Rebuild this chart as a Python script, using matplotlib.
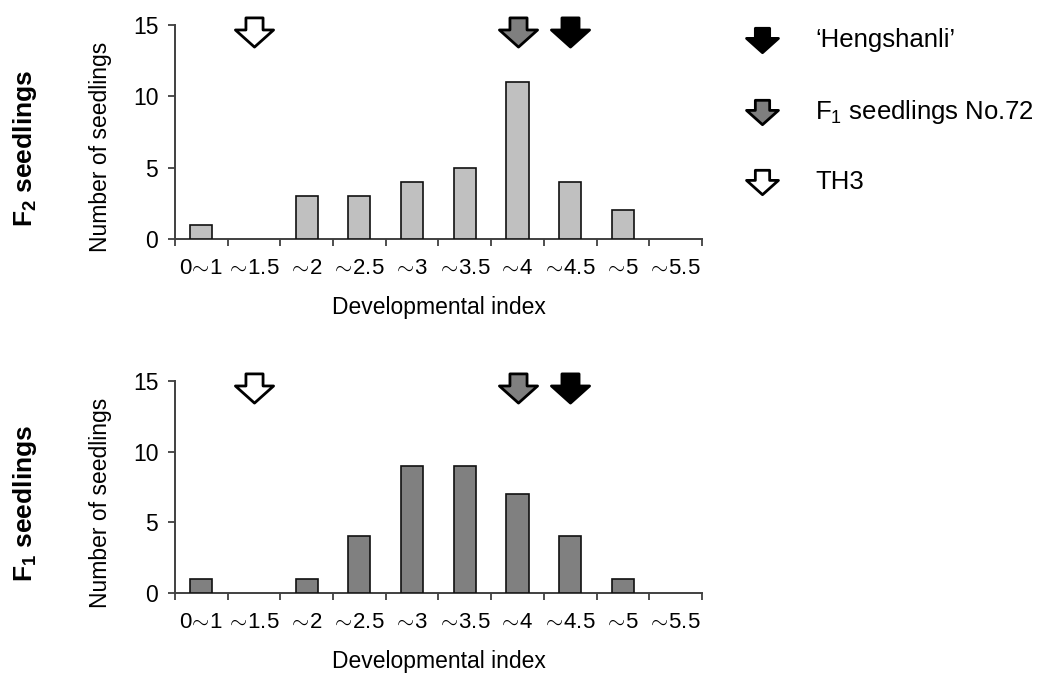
import matplotlib
matplotlib.use("Agg")
import matplotlib.pyplot as plt
from matplotlib.path import Path
from matplotlib.lines import Line2D
import matplotlib.transforms as mtransforms
import numpy as np

plt.rcParams['font.family'] = ['Liberation Sans', 'DejaVu Sans']
plt.rcParams['mathtext.fontset'] = 'custom'
plt.rcParams['mathtext.rm'] = 'Liberation Sans'
plt.rcParams['mathtext.it'] = 'Liberation Sans'
plt.rcParams['mathtext.bf'] = 'Liberation Sans:bold'
plt.rcParams['mathtext.fallback'] = 'cm'

# ---------------- data ----------------
categories = ["0～1", "～1.5", "～2", "～2.5", "～3", "～3.5", "～4", "～4.5", "～5", "～5.5"]
f2_counts = [1, 0, 3, 3, 4, 5, 11, 4, 2, 0]
f1_counts = [1, 0, 1, 4, 9, 9, 7, 4, 1, 0]
parents = ["‘Hengshanli’", "F$_1$ seedlings No.72", "TH3"]
parent_category = ["～4.5", "～4", "～1.5"]
parent_colors = ["#000000", "#7f7f7f", "#ffffff"]
yticks = [0, 5, 10, 15]

# display form of the tick labels (wide tilde via mathtext, relation spacing removed)
tick_text = [c.replace("～", r"$\!\sim\!$") for c in categories]

# ---------------- arrow marker ----------------
sw, hw = 0.224, 0.5
top, hb, tip = 0.382, 0.066, -0.382
verts = [(-sw, top), (sw, top), (sw, hb), (hw, hb), (0, tip), (-hw, hb), (-sw, hb), (-sw, top)]
codes = [Path.MOVETO] + [Path.LINETO] * 6 + [Path.CLOSEPOLY]
arrow_path = Path(verts, codes)

fig = plt.figure(figsize=(10.47, 6.74), dpi=100)

spine_col = '#404040'
x = np.arange(len(categories))

def draw_panel(ax, counts, color):
    bars = ax.bar(x, counts, width=0.42, color=color, edgecolor='#111111', linewidth=1.2, zorder=3)
    for b, c in zip(bars, counts):
        if c == 0:
            b.set_visible(False)
    ax.set_xlim(-0.5, len(categories) - 0.5)
    ax.set_ylim(0, 15)
    ax.set_yticks(yticks)
    ax.set_xticks(x)
    ax.set_xticklabels(tick_text)
    ax.set_xticks(np.arange(len(categories) + 1) - 0.5, minor=True)
    ax.tick_params(axis='x', which='major', length=0, pad=14, labelsize=16)
    ax.tick_params(axis='x', which='minor', length=5, width=1.3, color=spine_col, direction='out')
    ax.tick_params(axis='y', length=5, width=1.3, color=spine_col, pad=7, labelsize=16.5)
    for s in ['top', 'right']:
        ax.spines[s].set_visible(False)
    for s in ['left', 'bottom']:
        ax.spines[s].set_color(spine_col)
        ax.spines[s].set_linewidth(1.4)
    ax.set_xlabel("Developmental index", fontsize=16.5, labelpad=12)
    trans = mtransforms.blended_transform_factory(ax.transData, ax.transAxes)
    for cat, col in zip(parent_category, parent_colors):
        xi = categories.index(cat)
        ax.plot([xi], [0.968], marker=arrow_path, markersize=27.5, color=col,
                markerfacecolor=col, markeredgecolor='black', markeredgewidth=2,
                transform=trans, clip_on=False, linestyle='none', zorder=5)

ax1 = fig.add_axes([0.1671, 0.6454, 0.5034, 0.3175])
draw_panel(ax1, f2_counts, '#c0c0c0')
ax2 = fig.add_axes([0.1671, 0.1202, 0.5034, 0.3145])
draw_panel(ax2, f1_counts, '#808080')

# y labels
fig.text(100 / 1047, 1 - 147 / 674, "Number of seedlings", rotation=90, ha='center', va='center', fontsize=16.5)
fig.text(100 / 1047, 1 - 503 / 674, "Number of seedlings", rotation=90, ha='center', va='center', fontsize=16.5)
fig.text(25 / 1047, 1 - 148 / 674, r"F$_\mathbf{2}$ seedlings", rotation=90, ha='center', va='center',
         fontsize=19, fontweight='bold')
fig.text(25 / 1047, 1 - 503 / 674, r"F$_\mathbf{1}$ seedlings", rotation=90, ha='center', va='center',
         fontsize=19, fontweight='bold')

# legend
leg_y = [1 - 40 / 674, 1 - 112 / 674, 1 - 182 / 674]
for name, col, yy in zip(parents, parent_colors, leg_y):
    ln = Line2D([762 / 1047], [yy], marker=arrow_path, markersize=23, color=col,
                markerfacecolor=col, markeredgecolor='black', markeredgewidth=2,
                transform=fig.transFigure, linestyle='none')
    fig.add_artist(ln)
    fig.text(815 / 1047, yy, name, ha='left', va='center', fontsize=18.5)

fig.savefig("out.png", dpi=100)
